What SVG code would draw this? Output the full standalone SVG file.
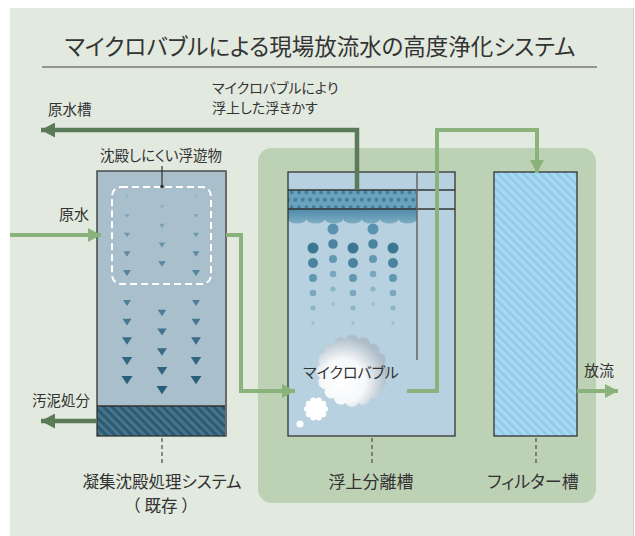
<svg xmlns="http://www.w3.org/2000/svg" xmlns:xlink="http://www.w3.org/1999/xlink" width="635" height="536" viewBox="0 0 635 536">
  <style>
    text { font-family: "Noto Sans CJK JP", "Noto Sans", sans-serif; fill: #333; font-feature-settings: "palt"; }
    .title { font-size: 22.5px; }
    .lbl { font-size: 14px; }
    .cap { font-size: 16.5px; }
    .tank { stroke: #333; stroke-width: 1.3; }
    .pipe { fill: none; stroke: #8ab37b; stroke-width: 4; }
    .pipe-dark { fill: none; stroke: #5b7a57; stroke-width: 4.5; }
    .leader { fill: none; stroke: #555; stroke-width: 1.3; stroke-dasharray: 4 3; }
    .cloud { fill: url(#cloudFill); }
  </style>
  <defs>
    <marker id="headLight" markerUnits="userSpaceOnUse" markerWidth="14" markerHeight="14" refX="13" refY="7" orient="auto">
      <path d="M0,0 L13,7 L0,14 z" fill="#8ab37b"/>
    </marker>
    <marker id="headDark" markerUnits="userSpaceOnUse" markerWidth="15" markerHeight="15" refX="14" refY="7.5" orient="auto">
      <path d="M0,0 L14,7.5 L0,15 z" fill="#5b7a57"/>
    </marker>
    <pattern id="sludgeHatch" patternUnits="userSpaceOnUse" width="6" height="6" patternTransform="rotate(-45)">
      <rect width="6" height="6" fill="#45758c"/>
      <rect width="3" height="6" fill="#2e5a6f"/>
    </pattern>
    <pattern id="filterHatch" patternUnits="userSpaceOnUse" width="6" height="6" patternTransform="rotate(-45)">
      <rect width="6" height="6" fill="#a9d9f1"/>
      <rect width="2.5" height="6" fill="#8fcbe9"/>
    </pattern>
    <pattern id="scumDots" patternUnits="userSpaceOnUse" x="288" y="192.3" width="7.37" height="15">
      <rect width="7.37" height="15" fill="#6aa3be"/>
      <circle cx="3.68" cy="0" r="1.9" fill="#3f7c98"/>
      <circle cx="0" cy="7.5" r="1.9" fill="#3f7c98"/>
      <circle cx="7.37" cy="7.5" r="1.9" fill="#3f7c98"/>
      <circle cx="3.68" cy="15" r="1.9" fill="#3f7c98"/>
    </pattern>
    <linearGradient id="foamFill" x1="0" y1="209" x2="0" y2="226" gradientUnits="userSpaceOnUse">
      <stop offset="0" stop-color="#4d8aa8"/>
      <stop offset="1" stop-color="#86b3c9"/>
    </linearGradient>
    <radialGradient id="cloudFill" gradientUnits="userSpaceOnUse" cx="343" cy="381" r="44">
      <stop offset="0" stop-color="#ffffff"/>
      <stop offset="0.5" stop-color="#f6f8fa"/>
      <stop offset="1" stop-color="#aebdc9"/>
    </radialGradient>
    <path id="tri" d="M-5,-3.75 L5,-3.75 L0,3.75 z"/>
  </defs>

  <!-- background -->
  <rect x="10" y="8" width="623" height="528" fill="#e2e9df"/>
  <line x1="633.5" y1="8" x2="633.5" y2="536" stroke="#cfd6cc" stroke-width="1"/>

  <!-- heading -->
  <g id="heading">
    <text class="title" x="320" y="55" text-anchor="middle">マイクロバブルによる現場放流水の高度浄化システム</text>
    <line x1="42" y1="67" x2="597" y2="67" stroke="#444" stroke-width="1.2"/>
  </g>

  <!-- new treatment area -->
  <rect id="upgrade-area" x="258" y="148" width="338" height="355" rx="14" fill="#bdd1b4"/>

  <!-- existing coagulation / sedimentation tank -->
  <g id="coag-tank">
    <rect x="97" y="171" width="129" height="235" fill="#a9bfcc"/>
    <rect x="97" y="406" width="129" height="30" fill="url(#sludgeHatch)"/>
    <rect class="tank" x="97" y="171" width="129" height="265" fill="none"/>
    <line x1="97" y1="406" x2="226" y2="406" stroke="#333" stroke-width="1.3"/>
    <line x1="226" y1="171" x2="226" y2="436" stroke="#6b6b6b" stroke-width="2"/>
    <rect x="112" y="187" width="99" height="97" rx="9" fill="none" stroke="#fff" stroke-width="2" stroke-dasharray="7 4"/>
    <!-- settling flocs -->
    <g id="flocs">
      <use xlink:href="#tri" transform="translate(127,197) scale(0.45)" fill="#95b3c3"/>
      <use xlink:href="#tri" transform="translate(127,216) scale(0.55)" fill="#86a8ba"/>
      <use xlink:href="#tri" transform="translate(127,235) scale(0.62)" fill="#6f98ad"/>
      <use xlink:href="#tri" transform="translate(127,254) scale(0.72)" fill="#5e8ba2"/>
      <use xlink:href="#tri" transform="translate(127,273) scale(0.8)" fill="#54839b"/>
      <use xlink:href="#tri" transform="translate(127,303) scale(0.8)" fill="#4f8099"/>
      <use xlink:href="#tri" transform="translate(127,322) scale(0.9)" fill="#467890"/>
      <use xlink:href="#tri" transform="translate(127,341) scale(1)" fill="#3b6e87"/>
      <use xlink:href="#tri" transform="translate(127,361) scale(1.05)" fill="#31667f"/>
      <use xlink:href="#tri" transform="translate(127,380) scale(1.1)" fill="#2a5f79"/>

      <use xlink:href="#tri" transform="translate(196,197) scale(0.45)" fill="#95b3c3"/>
      <use xlink:href="#tri" transform="translate(196,216) scale(0.55)" fill="#86a8ba"/>
      <use xlink:href="#tri" transform="translate(196,235) scale(0.62)" fill="#6f98ad"/>
      <use xlink:href="#tri" transform="translate(196,254) scale(0.72)" fill="#5e8ba2"/>
      <use xlink:href="#tri" transform="translate(196,273) scale(0.8)" fill="#54839b"/>
      <use xlink:href="#tri" transform="translate(196,303) scale(0.8)" fill="#4f8099"/>
      <use xlink:href="#tri" transform="translate(196,322) scale(0.9)" fill="#467890"/>
      <use xlink:href="#tri" transform="translate(196,341) scale(1)" fill="#3b6e87"/>
      <use xlink:href="#tri" transform="translate(196,361) scale(1.05)" fill="#31667f"/>
      <use xlink:href="#tri" transform="translate(196,380) scale(1.1)" fill="#2a5f79"/>

      <use xlink:href="#tri" transform="translate(162,207) scale(0.48)" fill="#90afc0"/>
      <use xlink:href="#tri" transform="translate(162,226) scale(0.58)" fill="#7ea2b5"/>
      <use xlink:href="#tri" transform="translate(162,245) scale(0.66)" fill="#6893a9"/>
      <use xlink:href="#tri" transform="translate(162,264) scale(0.75)" fill="#58879f"/>
      <use xlink:href="#tri" transform="translate(162,313) scale(0.85)" fill="#4b7d96"/>
      <use xlink:href="#tri" transform="translate(162,332) scale(0.95)" fill="#41738c"/>
      <use xlink:href="#tri" transform="translate(162,352) scale(1)" fill="#376b84"/>
      <use xlink:href="#tri" transform="translate(162,371) scale(1.05)" fill="#2f647e"/>
      <use xlink:href="#tri" transform="translate(162,390) scale(1.1)" fill="#295e78"/>
    </g>
    <text class="lbl" x="161" y="161" text-anchor="middle" style="font-size:14.5px">沈殿しにくい浮遊物</text>
    <line x1="162" y1="166" x2="162" y2="186" stroke="#333" stroke-width="1.2"/>
    <circle cx="162" cy="186.5" r="1.8" fill="#333"/>
    <line class="leader" x1="162" y1="438" x2="162" y2="463"/>
    <text class="cap" x="162" y="488" text-anchor="middle">凝集沈殿処理システム</text>
    <text class="cap" x="161" y="512" text-anchor="middle" style="font-feature-settings: normal">（ 既存 ）</text>
  </g>

  <!-- flotation separation tank -->
  <g id="flotation-tank">
    <rect x="288" y="172" width="167" height="264" fill="#b8d1e0"/>
    <rect x="288" y="190" width="129" height="19" fill="url(#scumDots)"/>
    <path d="M288,209 H417 V219 a9.2,4.5 0 0 1 -18.43,0 a9.2,4.5 0 0 1 -18.43,0 a9.2,4.5 0 0 1 -18.43,0 a9.2,4.5 0 0 1 -18.43,0 a9.2,4.5 0 0 1 -18.43,0 a9.2,4.5 0 0 1 -18.43,0 a9.2,4.5 0 0 1 -18.43,0 z" fill="url(#foamFill)"/>
    <circle cx="333" cy="229" r="5.5" fill="#5a93b0"/>
    <circle cx="373" cy="229" r="5.5" fill="#5a93b0"/>
    <!-- rising bubbles -->
    <g id="bubbles">
      <circle cx="313" cy="248" r="5.5" fill="#3e7793"/>
      <circle cx="313" cy="263" r="5" fill="#4a84a0"/>
      <circle cx="313" cy="278" r="4" fill="#6297b0"/>
      <circle cx="313" cy="293" r="3.3" fill="#78a7be"/>
      <circle cx="313" cy="308" r="2.6" fill="#8db5c9"/>
      <circle cx="313" cy="323" r="1.8" fill="#9cc0d2"/>
      <circle cx="353" cy="248" r="5.5" fill="#3e7793"/>
      <circle cx="353" cy="263" r="5" fill="#4a84a0"/>
      <circle cx="353" cy="278" r="4" fill="#6297b0"/>
      <circle cx="353" cy="293" r="3.3" fill="#78a7be"/>
      <circle cx="353" cy="308" r="2.6" fill="#8db5c9"/>
      <circle cx="353" cy="323" r="1.8" fill="#9cc0d2"/>
      <circle cx="393" cy="248" r="5.5" fill="#3e7793"/>
      <circle cx="393" cy="263" r="5" fill="#4a84a0"/>
      <circle cx="393" cy="278" r="4" fill="#6297b0"/>
      <circle cx="393" cy="293" r="3.3" fill="#78a7be"/>
      <circle cx="393" cy="308" r="2.6" fill="#8db5c9"/>
      <circle cx="393" cy="323" r="1.8" fill="#9cc0d2"/>
      <circle cx="333" cy="244" r="4.8" fill="#4a84a0"/>
      <circle cx="333" cy="259" r="4" fill="#6297b0"/>
      <circle cx="333" cy="274" r="3.3" fill="#78a7be"/>
      <circle cx="333" cy="289" r="2.6" fill="#8db5c9"/>
      <circle cx="333" cy="304" r="1.8" fill="#9cc0d2"/>
      <circle cx="373" cy="244" r="4.8" fill="#4a84a0"/>
      <circle cx="373" cy="259" r="4" fill="#6297b0"/>
      <circle cx="373" cy="274" r="3.3" fill="#78a7be"/>
      <circle cx="373" cy="289" r="2.6" fill="#8db5c9"/>
      <circle cx="373" cy="304" r="1.8" fill="#9cc0d2"/>
    </g>
    <!-- micro-bubble cloud -->
    <g id="micro-bubble-cloud" class="cloud">
      <circle cx="352" cy="371" r="30"/>
      <circle cx="381" cy="371" r="7"/>
      <circle cx="378.8" cy="382.1" r="7"/>
      <circle cx="372.5" cy="391.5" r="7"/>
      <circle cx="363.1" cy="397.8" r="7"/>
      <circle cx="352" cy="400" r="7"/>
      <circle cx="340.9" cy="397.8" r="7"/>
      <circle cx="331.5" cy="391.5" r="7"/>
      <circle cx="325.2" cy="382.1" r="7"/>
      <circle cx="323" cy="371" r="7"/>
      <circle cx="325.2" cy="359.9" r="7"/>
      <circle cx="331.5" cy="350.5" r="7"/>
      <circle cx="340.9" cy="344.2" r="7"/>
      <circle cx="352" cy="342" r="7"/>
      <circle cx="363.1" cy="344.2" r="7"/>
      <circle cx="372.5" cy="350.5" r="7"/>
      <circle cx="378.8" cy="359.9" r="7"/>
    </g>
    <g id="small-cloud" fill="#ffffff">
      <circle cx="316" cy="409" r="9.5"/>
      <circle cx="325" cy="409" r="3"/>
      <circle cx="323.3" cy="414.3" r="3"/>
      <circle cx="318.8" cy="417.6" r="3"/>
      <circle cx="313.2" cy="417.6" r="3"/>
      <circle cx="308.7" cy="414.3" r="3"/>
      <circle cx="307" cy="409" r="3"/>
      <circle cx="308.7" cy="403.7" r="3"/>
      <circle cx="313.2" cy="400.4" r="3"/>
      <circle cx="318.8" cy="400.4" r="3"/>
      <circle cx="323.3" cy="403.7" r="3"/>
    </g>
    <circle cx="300" cy="424" r="3.5" fill="#ffffff"/>
    <text class="lbl" x="351" y="378" text-anchor="middle" style="font-size:15px">マイクロバブル</text>
    <rect class="tank" x="288" y="172" width="167" height="264" fill="none"/>
    <line x1="288" y1="190" x2="455" y2="190" stroke="#333" stroke-width="1.3"/>
    <line x1="288" y1="209" x2="455" y2="209" stroke="#333" stroke-width="1.3"/>
    <line x1="417" y1="172" x2="417" y2="360" stroke="#666" stroke-width="1.5"/>
    <line class="leader" x1="372" y1="438" x2="372" y2="463"/>
    <text class="cap" x="371" y="488" text-anchor="middle" style="font-size:17px">浮上分離槽</text>
  </g>

  <!-- filter tank -->
  <g id="filter-tank">
    <rect class="tank" x="494" y="172" width="83" height="264" fill="url(#filterHatch)"/>
    <line class="leader" x1="536" y1="438" x2="536" y2="463"/>
    <text class="cap" x="533" y="488" text-anchor="middle" style="font-size:17px">フィルター槽</text>
  </g>

  <!-- flow lines -->
  <g id="connectors">
    <path class="pipe" d="M10,235 H101" marker-end="url(#headLight)"/>
    <path class="pipe" d="M226,235 H241 V391 H295" marker-end="url(#headLight)"/>
    <path class="pipe" d="M407,391 H437 V130 H537 V173" marker-end="url(#headLight)"/>
    <path class="pipe" d="M577,391 H618" marker-end="url(#headLight)"/>
    <path class="pipe-dark" d="M357,190 V130 H41" marker-end="url(#headDark)"/>
    <path class="pipe-dark" d="M97,421 H41" marker-end="url(#headDark)"/>
  </g>

  <!-- flow labels -->
  <g id="flow-labels">
    <text class="lbl" x="48" y="115" style="font-size:14.5px">原水槽</text>
    <text class="lbl" x="212" y="93">マイクロバブルにより</text>
    <text class="lbl" x="212" y="113">浮上した浮きかす</text>
    <text class="lbl" x="59" y="220" style="font-size:15px">原水</text>
    <text class="lbl" x="32" y="406" style="font-size:14.5px">汚泥処分</text>
    <text class="lbl" x="584" y="376" style="font-size:15px">放流</text>
  </g>
</svg>
